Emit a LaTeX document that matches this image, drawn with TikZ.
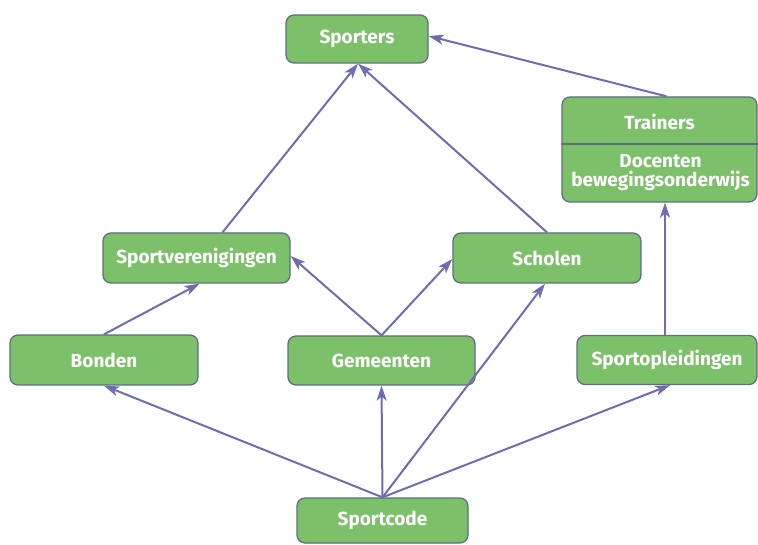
\documentclass[tikz,border=0pt]{standalone}
\usepackage{fontspec}
\setmainfont{Fira Sans}
\usetikzlibrary{arrows.meta}
\definecolor{boxfill}{HTML}{7DC06A}
\definecolor{boxline}{HTML}{5E7080}
\definecolor{arrowc}{HTML}{6D6DB3}
\tikzset{
  box/.style={draw=boxline, line width=1.3pt, fill=boxfill, rounded corners=8pt,
    text=white, font=\bfseries\fontsize{19}{21}\selectfont, inner sep=0pt},
  lbl/.style={text=white, font=\bfseries\fontsize{19}{20}\selectfont, inner sep=0pt, align=center},
  conn/.style={draw=arrowc, line width=2pt, -{Stealth[length=15pt,width=10pt,inset=4pt]}}
}
\begin{document}
\begin{tikzpicture}[x=1pt,y=-1pt]
\useasboundingbox (0,0) rectangle (758,545);
\node[box, minimum width=142pt, minimum height=48pt] (sp) at (357,39) {Sporters};
\node[box, minimum width=195pt, minimum height=105pt] (tr) at (659.5,149.5) {};
\coordinate (dv) at (0,144);
\draw[boxline, line width=1.3pt] (tr.west |- dv) -- (tr.east |- dv);
\node[lbl] (trl) at (659.5,122) {Trainers};
\node[lbl, text width=194pt, font=\bfseries\fontsize{19}{19}\selectfont] (dol) at (660.5,173) {Docenten\\bewegingsonderwijs};
\node[box, minimum width=187pt, minimum height=50pt] (sv) at (196.5,258) {Sportverenigingen};
\node[box, minimum width=188pt, minimum height=50pt] (sc) at (547,258) {Scholen};
\node[box, minimum width=188pt, minimum height=50pt] (bo) at (104,360) {Bonden};
\node[box, minimum width=187pt, minimum height=49pt] (ge) at (381.5,360.5) {Gemeenten};
\node[box, minimum width=180pt, minimum height=49pt] (so) at (667,360) {Sportopleidingen};
\node[box, minimum width=171pt, minimum height=45pt] (cd) at (382.5,520.5) {Sportcode};

\draw[conn] ([xshift=26pt]sv.north) -- ([xshift=1pt]sp.south);
\draw[conn] (sc.north) -- ([xshift=1pt]sp.south);
\draw[conn] ([xshift=7pt]tr.north) -- ([yshift=3pt]sp.east);
\draw[conn] ([xshift=-2pt]so.north) -- ([xshift=-2pt]so.north |- tr.south);
\draw[conn] (bo.north) -- ([xshift=3pt]sv.south);
\draw[conn] (ge.north) -- ([yshift=2pt]sv.east);
\draw[conn] (ge.north) -- ([yshift=-1pt]sc.west);
\draw[conn] (cd.north) -- (bo.south);
\draw[conn] (cd.north) -- (ge.south);
\draw[conn] (cd.north) -- ([xshift=-2pt]sc.south);
\draw[conn] (cd.north) -- ([xshift=3pt]so.south);
\end{tikzpicture}
\end{document}
